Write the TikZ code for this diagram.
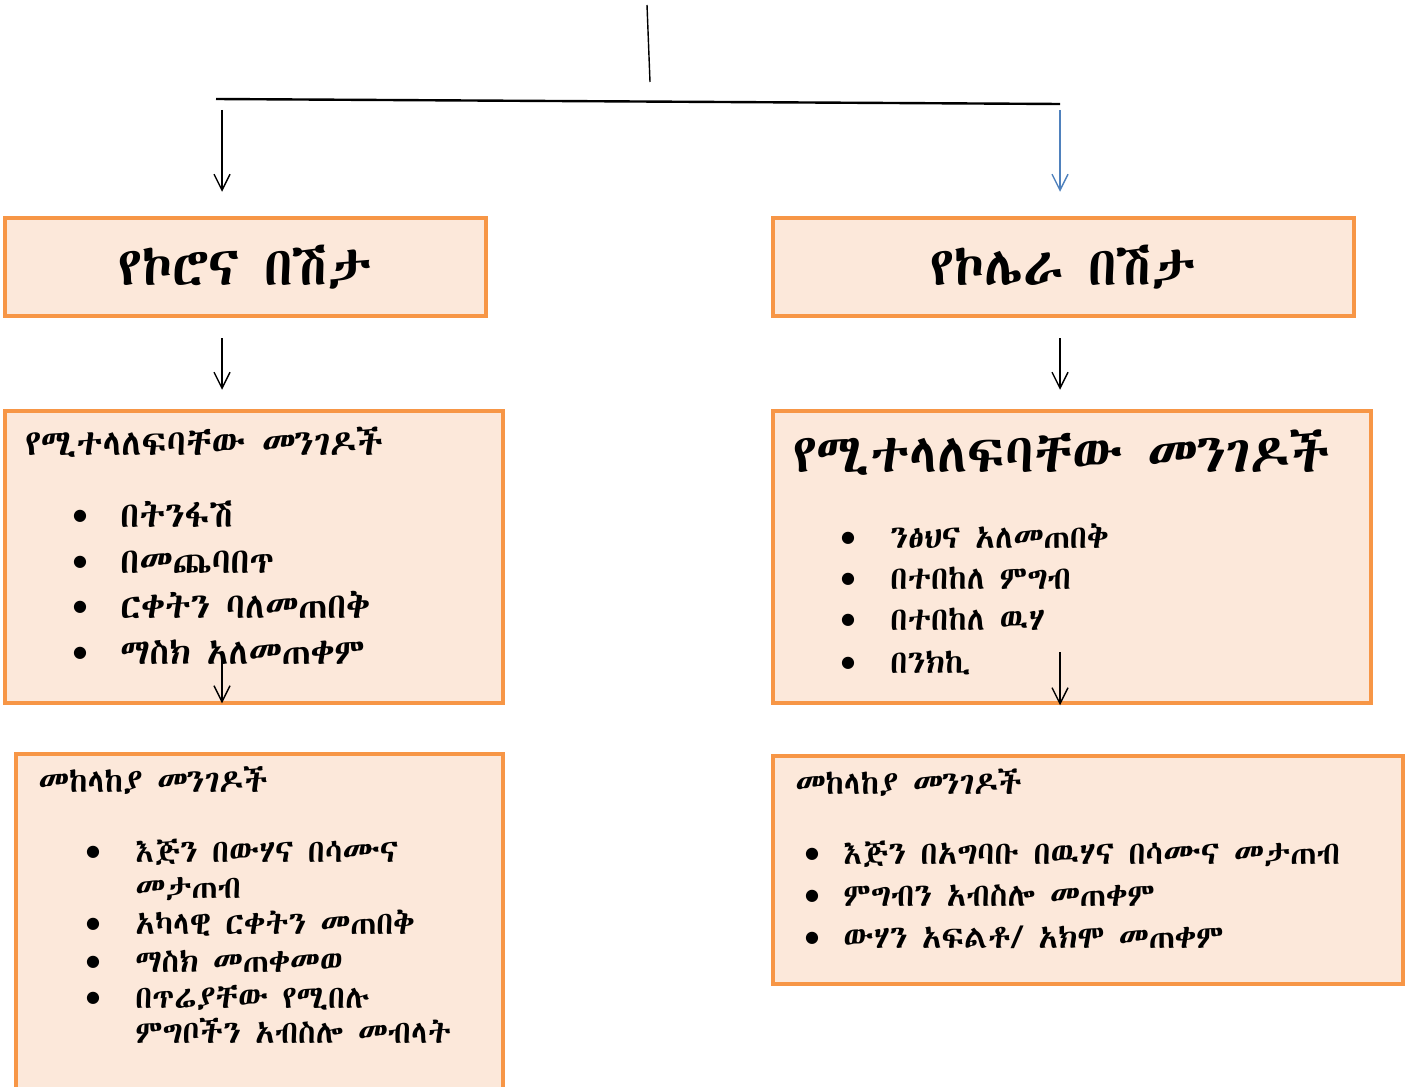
\documentclass[tikz,border=0pt]{standalone}
\usepackage{fontspec}
\usetikzlibrary{arrows.meta}

\IfFontExistsTF{Abyssinica SIL}{\newfontfamily\geez{Abyssinica SIL}}{%
  \IfFontExistsTF{Noto Sans Ethiopic}{\newfontfamily\geez{Noto Sans Ethiopic}}{%
    \newfontfamily\geez{FreeSerif}}}
\newfontfamily\symfont{DejaVu Sans}

\definecolor{boxline}{HTML}{F79646}
\definecolor{boxfill}{HTML}{FCE8DA}
\definecolor{linkblue}{HTML}{4F81BD}

\tikzset{
  box/.style={draw=boxline, fill=boxfill, line width=2.25pt, inner sep=0pt},
  arr/.style={-{Straight Barb[length=8pt,width=8pt]}, line width=0.7pt},
  item/.style={anchor=base west, inner sep=0pt, font=\geez\fontsize{#1}{#1}\selectfont},
  dot/.style={inner sep=0pt, font=\symfont\fontsize{8}{8}\selectfont},
}

\begin{document}
\begin{tikzpicture}[x=0.5pt,y=-0.5pt]
\useasboundingbox (0,0) rectangle (1406,1086);

\def\xl{222};
\def\xr{1060};

% boxes
\node[box, minimum width=240.5pt, minimum height=49pt, font=\geez\fontsize{27}{27}\selectfont]
  (corona) at (245.5,267) {\raisebox{2pt}{የኮሮና በሽታ}};
\node[box, minimum width=290.5pt, minimum height=49pt, font=\geez\fontsize{27}{27}\selectfont]
  (cholera) at (1063.5,267) {\raisebox{2pt}{የኮሌራ በሽታ}};
\node[box, minimum width=249pt, minimum height=146pt] (spreadl) at (254,557) {};
\node[box, minimum width=299pt, minimum height=146pt] (spreadr) at (1072,557) {};
\node[box, minimum width=243.5pt, minimum height=173pt] (preventl) at (259.5,927) {};
\node[box, minimum width=315pt, minimum height=114pt] (preventr) at (1088,870) {};

% top lines
\coordinate (top) at (647,5);
\coordinate (mid) at (650,82);
\coordinate (hl) at (216,99);
\coordinate (hr) at (1060,104);
\draw[line width=0.7pt] (top) -- (mid);
\draw[line width=1.2pt] (hl) -- (hr);

% left texts
\node[item=18] (tl) at (25,455) {የሚተላለፍባቸው መንገዶች};
\foreach \y/\t [count=\i] in {527/በትንፋሽ, 573/በመጨባበጥ, 618/ርቀትን ባለመጠበቅ, 664/ማስክ አለመጠቀም}{
  \node[dot] (bl\i) at (80,\y-11) {●};
  \node[item=17.8] (il\i) at (120,\y) {\t};
}

\node[item=16.4] (pl) at (38,792) {መከላከያ መንገዶች};
\foreach \y/\t [count=\i] in {862/እጅን በውሃና በሳሙና, 934/አካላዊ ርቀትን መጠበቅ, 972/ማስክ መጠቀመወ, 1008/በጥሬያቸው የሚበሉ}{
  \node[dot] (bp\i) at (93,\y-10) {●};
  \node[item=16] (ip\i) at (135,\y) {\t};
}
\node[item=16] (ip5) at (135,898) {መታጠብ};
\node[item=16] (ip6) at (135,1043) {ምግቦችን አብስሎ መብላት};

% right texts
\node[item=27] (tr) at (793,472) {የሚተላለፍባቸው መንገዶች};
\foreach \y/\t [count=\i] in {548/ንፅህና አለመጠበቅ, 589/በተበከለ ምግብ, 630/በተበከለ ዉሃ, 673/በንክኪ}{
  \node[dot] (br\i) at (848,\y-10) {●};
  \node[item=16.2] (ir\i) at (890,\y) {\t};
}

\node[item=16.2] (pr) at (795,794) {መከላከያ መንገዶች};
\foreach \y/\t [count=\i] in {864/{እጅን በአግባቡ በዉሃና በሳሙና መታጠብ}, 906/{ምግብን አብስሎ መጠቀም}, 948/{ውሃን አፍልቶ/ አክሞ መጠቀም}}{
  \node[dot] (bq\i) at (812,\y-10) {●};
  \node[item=16.1] (iq\i) at (843,\y) {\t};
}

% arrows
\coordinate (al) at (\xl,110);
\coordinate (ar) at (\xr,110);
\coordinate (cl) at (\xl,655);
\coordinate (cr) at (\xr,652);
\draw[arr, shorten >=12pt] (al) -- (al |- corona.north);
\draw[arr, linkblue, shorten >=12pt] (ar) -- (ar |- cholera.north);
\draw[arr, shorten <=10pt, shorten >=9.5pt] (al |- corona.south) -- (al |- spreadl.north);
\draw[arr, shorten <=10pt, shorten >=9.5pt] (ar |- cholera.south) -- (ar |- spreadr.north);
\draw[arr, shorten >=1pt] (cl) -- (cl |- spreadl.south);
\draw[arr] (cr) -- (cr |- spreadr.south);

\end{tikzpicture}
\end{document}
